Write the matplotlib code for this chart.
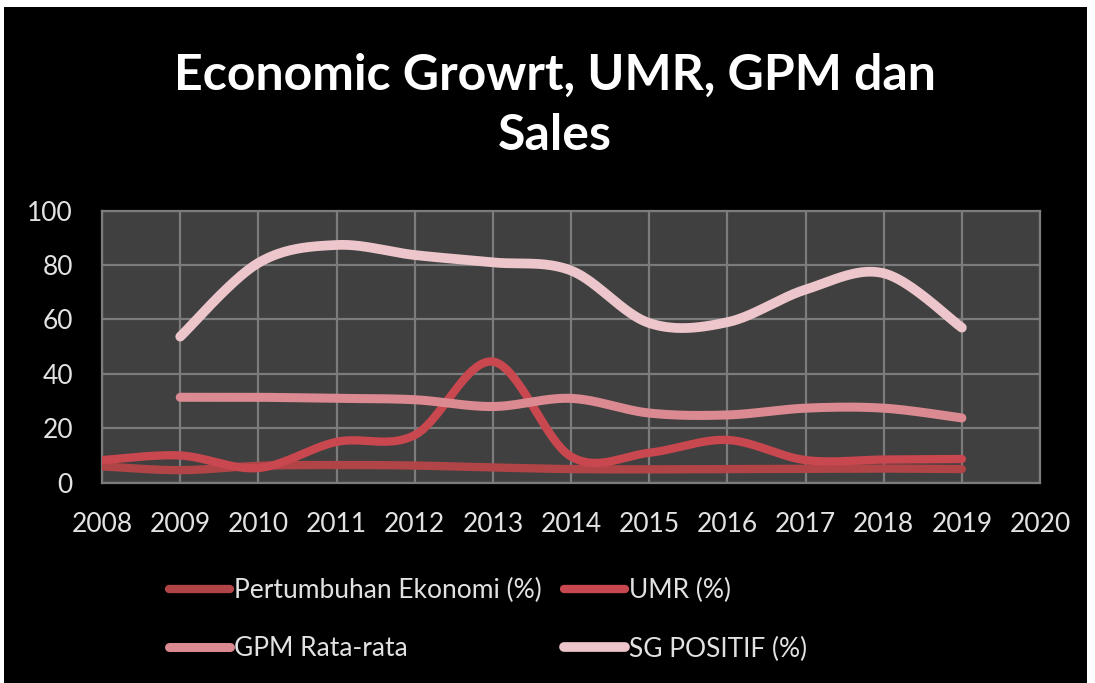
import numpy as np
import matplotlib.pyplot as plt
from matplotlib.patches import Rectangle

plt.rcParams['font.family'] = ['Lato', 'DejaVu Sans']

years = [2008, 2009, 2010, 2011, 2012, 2013, 2014, 2015, 2016, 2017, 2018, 2019]
pertumbuhan = [6.0, 4.6, 6.2, 6.5, 6.3, 5.6, 5.0, 4.9, 5.0, 5.1, 5.2, 5.0]
umr = [8.3, 10.0, 5.4, 15.0, 17.5, 44.5, 9.6, 11.0, 15.7, 8.3, 8.5, 8.7]
gpm_years = years[1:]
gpm = [31.4, 31.4, 31.0, 30.5, 28.0, 31.0, 25.6, 24.9, 27.4, 27.4, 23.8]
sg_years = years[1:]
sg_positif = [53.7, 80.8, 87.4, 83.7, 81.0, 78.0, 58.7, 59.0, 71.0, 77.0, 57.0]

x_ticks = list(range(2008, 2021))
y_ticks = [0, 20, 40, 60, 80, 100]


def smooth(xs, ys, n=40):
    # Catmull-Rom style bezier curves, like a spreadsheet "smoothed line"
    p = np.column_stack([xs, ys]).astype(float)
    pts = np.vstack([p[0], p, p[-1]])
    out = []
    t = np.linspace(0, 1, n)[:, None]
    for i in range(1, len(pts) - 2):
        p0, p1, p2, p3 = pts[i - 1], pts[i], pts[i + 1], pts[i + 2]
        c1 = p1 + (p2 - p0) / 6
        c2 = p2 - (p3 - p1) / 6
        seg = ((1 - t) ** 3) * p1 + 3 * ((1 - t) ** 2) * t * c1 + 3 * (1 - t) * t ** 2 * c2 + t ** 3 * p2
        out.append(seg if i == 1 else seg[1:])
    out = np.vstack(out)
    return out[:, 0], out[:, 1]


fig = plt.figure(figsize=(10.95, 6.83), dpi=100)
fig.patch.set_facecolor('white')
fig.patches.append(Rectangle((0.004, 0), 0.989, 0.99, transform=fig.transFigure,
                             facecolor='black', edgecolor='none', zorder=-10))

ax = fig.add_axes([0.0932, 0.2933, 0.8566, 0.3982])
ax.set_facecolor('#404040')

series = [
    (years, pertumbuhan, '#b04446', 6, 'Pertumbuhan Ekonomi (%)'),
    (years, umr, '#c9474f', 6, 'UMR (%)'),
    (gpm_years, gpm, '#dc8a92', 6.5, 'GPM Rata-rata'),
    (sg_years, sg_positif, '#ecc6cb', 7, 'SG POSITIF (%)'),
]
handles = {}
for xs, ys, color, lw, label in series:
    sx, sy = smooth(xs, ys)
    ln, = ax.plot(sx, sy, color=color, lw=lw, solid_capstyle='round', label=label, zorder=3)
    handles[label] = ln

ax.set_xlim(2008, 2020)
ax.set_ylim(0, 100)
ax.set_xticks(x_ticks)
ax.set_yticks(y_ticks)
ax.grid(True, color='#7c7c7c', lw=1.6)
ax.set_axisbelow(True)
for s in ax.spines.values():
    s.set_color('#7c7c7c')
    s.set_linewidth(1.6)
ax.tick_params(length=0, colors='#e2e2e2', labelsize=19)
ax.tick_params(axis='x', pad=21)
ax.tick_params(axis='y', pad=21)

fig.text(0.507, 0.89, 'Economic Growrt, UMR, GPM dan', ha='center', va='center',
         color='white', fontsize=36, fontweight='bold')
fig.text(0.507, 0.802, 'Sales', ha='center', va='center',
         color='white', fontsize=36, fontweight='bold')

order = ['Pertumbuhan Ekonomi (%)', 'GPM Rata-rata', 'UMR (%)', 'SG POSITIF (%)']
leg = fig.legend([handles[k] for k in order], order, ncol=2, loc='upper left',
                 bbox_to_anchor=(0.133, 0.188), frameon=False, fontsize=19,
                 handlelength=2.3, handletextpad=0.15, columnspacing=0.85,
                 labelspacing=1.25, labelcolor='#e2e2e2')

fig.savefig('out.png', dpi=100, facecolor=fig.get_facecolor())
